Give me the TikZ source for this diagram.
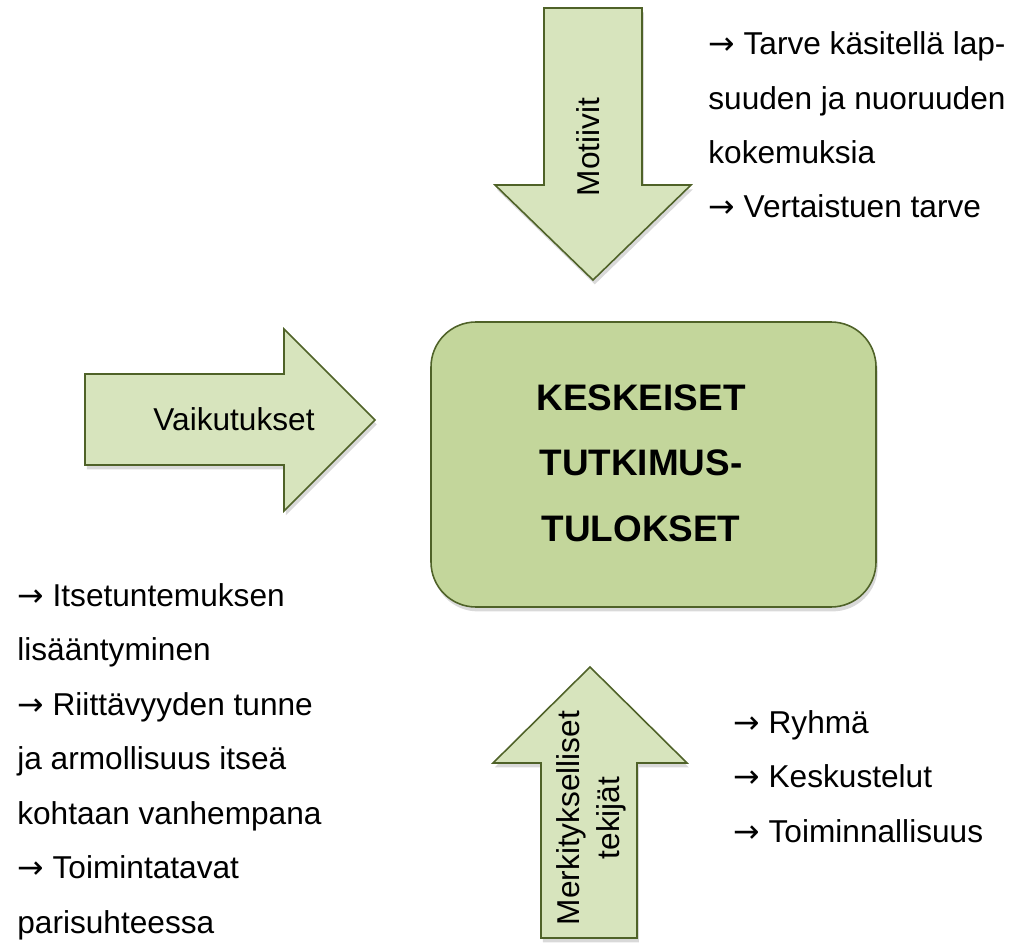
\documentclass[tikz,border=0pt]{standalone}
\usepackage{fontspec}
\setmainfont{Liberation Sans}
\newfontfamily\symfont{DejaVu Sans}
\newcommand{\harr}{{\symfont →}}
\usetikzlibrary{shadows}
\definecolor{arrowfill}{HTML}{D7E4BD}
\definecolor{boxfill}{HTML}{C3D69B}
\definecolor{edge}{HTML}{4F6228}
\tikzset{
  bigarrow/.style={draw=edge, fill=arrowfill, line width=0.9pt, line join=miter,
    drop shadow={opacity=0.3, shadow xshift=1pt, shadow yshift=-2.5pt}},
  resbox/.style={draw=edge, fill=boxfill, line width=0.9pt, rounded corners=0.9cm,
    drop shadow={opacity=0.3, shadow xshift=1pt, shadow yshift=-2.5pt}},
  lab/.style={font=\fontsize{18}{22.8}\selectfont, inner sep=0pt},
  labtxt/.style={font=\fontsize{18}{31}\selectfont, align=left, inner sep=0pt},
  labbold/.style={font=\fontsize{21}{37.3}\selectfont\bfseries, align=center, inner sep=0pt},
}

\begin{document}
\begin{tikzpicture}[x=0.02cm, y=-0.02cm]
  \useasboundingbox (0,0) rectangle (1020,945);

  % central box
  \draw[resbox] (431,322) rectangle (876,607);
  \node[labbold] (tulokset) at (641,463) {KESKEISET\\TUTKIMUS-\\TULOKSET};

  % arrow from above
  \draw[bigarrow] (544,8) -- (642,8) -- (642,185) -- (691,185) -- (593,280)
    -- (495,185) -- (544,185) -- cycle;
  \node[lab, rotate=90] (motiivit) at (588,147) {Motiivit};

  % arrow from the left
  \draw[bigarrow] (85,374) -- (284,374) -- (284,329) -- (375,420) -- (284,511)
    -- (284,465) -- (85,465) -- cycle;
  \node[lab] (vaikutukset) at (234,419) {Vaikutukset};

  % arrow from below
  \draw[bigarrow] (541,938) -- (541,763) -- (493,763) -- (590,667) -- (687,763)
    -- (637,763) -- (637,938) -- cycle;
  \node[lab, rotate=90, align=center] (tekijat) at (591,818) {Merkitykselliset\\tekijät};

  % lists (base = last line)
  \node[labtxt, anchor=base west] (motlist) at (708,218)
    {\harr\ Tarve käsitellä lap-\\suuden ja nuoruuden\\kokemuksia\\\harr\ Vertaistuen tarve};
  \node[labtxt, anchor=base west] (vaiklist) at (17,933)
    {\harr\ Itsetuntemuksen\\lisääntyminen\\\harr\ Riittävyyden tunne\\ja armollisuus itseä\\kohtaan vanhempana\\\harr\ Toimintatavat\\parisuhteessa};
  \node[labtxt, anchor=base west] (teklist) at (733,842)
    {\harr\ Ryhmä\\\harr\ Keskustelut\\\harr\ Toiminnallisuus};
\end{tikzpicture}
\end{document}
